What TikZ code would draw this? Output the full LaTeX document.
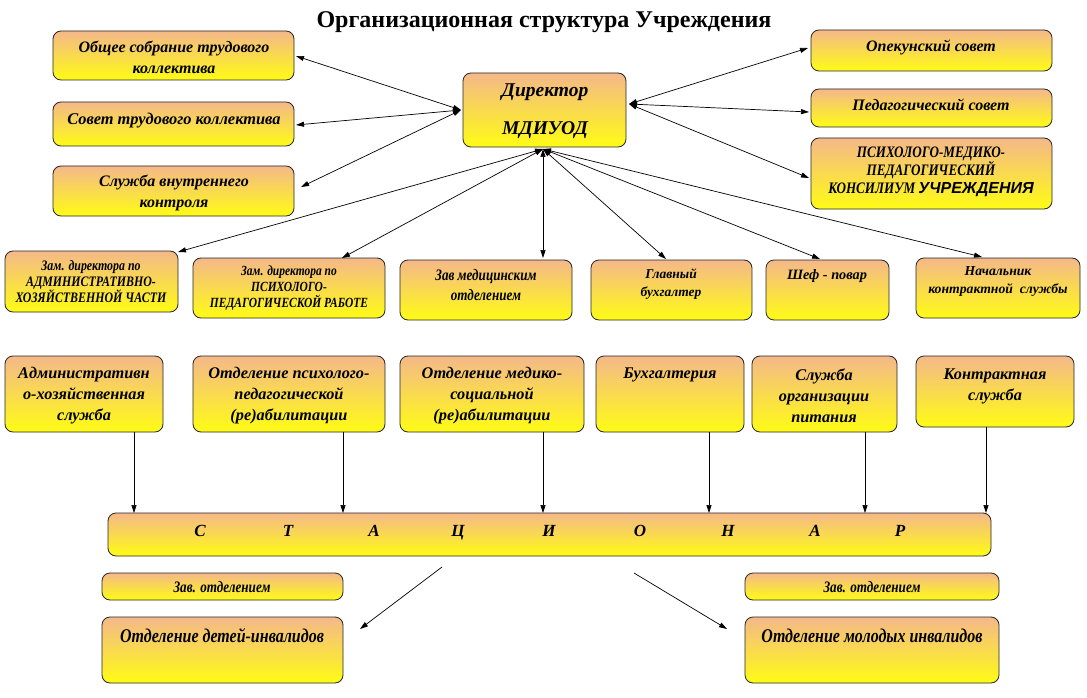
\documentclass[tikz,border=0pt]{standalone}
\usepackage{fontspec}
\setmainfont{Liberation Serif}
\newfontfamily\narrowf[FakeStretch=0.82]{Liberation Serif}
\newfontfamily\sansf{Liberation Sans}
\usetikzlibrary{arrows.meta}
\definecolor{btop}{RGB}{244,184,138}
\definecolor{bbot}{RGB}{255,252,20}
\tikzset{
 box/.style={draw=black!85, line width=0.8pt, rounded corners=8pt, top color=btop, bottom color=bbot, inner sep=0pt, outer sep=0pt},
 txt/.style={align=center, inner sep=0pt, font=\bfseries\itshape},
 link/.style={line width=0.7pt, -{Triangle[length=8pt,width=5pt]}},
 dlink/.style={line width=0.7pt, {Triangle[length=8pt,width=5pt]}-{Triangle[length=8pt,width=5pt]}},
}
\newcommand{\mybox}[5]{\node[box, minimum width={#4-#2}, minimum height={#5-#3}] (#1) at ({(#2+#4)/2},{(#3+#5)/2}) {};}
\newcommand{\fs}[2]{\fontsize{#1}{#2}\selectfont}
\begin{document}
\begin{tikzpicture}[x=1pt,y=-1pt]
\fill[white] (0,0) rectangle (1087,698);
\useasboundingbox (0,0) rectangle (1087,698);
\node[inner sep=0pt, font=\bfseries\fs{24}{28}] (title) at (544,22) {Организационная структура Учреждения};
\mybox{A1}{53}{31}{294}{80}
\mybox{A2}{53}{102}{294}{146}
\mybox{A3}{53}{166}{294}{216}
\mybox{Dir}{463}{73}{626}{147}
\mybox{B1}{811}{30}{1052}{71}
\mybox{B2}{811}{89}{1052}{127}
\mybox{B3}{811}{138}{1052}{209}
\mybox{C1}{5}{251}{178}{312}
\mybox{C2}{193}{258}{385}{318}
\mybox{C3}{400}{260}{572}{320}
\mybox{C4}{591}{260}{752}{320}
\mybox{C5}{766}{260}{889}{320}
\mybox{C6}{916}{258}{1080}{318}
\mybox{D1}{5}{356}{163}{432}
\mybox{D2}{193}{356}{385}{432}
\mybox{D3}{400}{356}{584}{432}
\mybox{D4}{596}{356}{744}{432}
\mybox{D5}{752}{356}{897}{432}
\mybox{D6}{916}{356}{1074}{427}
\mybox{S}{108}{513}{991}{556}
\mybox{Z1}{102}{573}{343}{600}
\mybox{Z2}{745}{573}{999}{600}
\mybox{E1}{102}{617}{343}{683}
\mybox{E2}{745}{617}{999}{683}
% texts
\node[txt, font=\bfseries\itshape\fs{16}{21}] (tA1) at (174,57) {Общее собрание трудового\\коллектива};
\node[txt, font=\bfseries\itshape\fs{16.4}{21}] (tA2) at (174,121) {Совет трудового коллектива};
\node[txt, font=\bfseries\itshape\fs{16}{21}] (tA3) at (174,193) {Служба внутреннего\\контроля};
\node[txt, font=\bfseries\itshape\fs{19.5}{38}] (tDir) at (545,111) {Директор\\{\fs{19.5}{38}МДИУОД}};
\node[txt, font=\bfseries\itshape\fs{16}{18}] (tB1) at (931,47) {Опекунский совет};
\node[txt, font=\bfseries\itshape\fs{16}{18}] (tB2) at (931,105) {Педагогический совет};
\node[txt, font=\narrowf\bfseries\itshape\fs{16}{18}] (tB3) at (931,172) {ПСИХОЛОГО-МЕДИКО-\\ПЕДАГОГИЧЕСКИЙ\\КОНСИЛИУМ {\sansf\bfseries\itshape\fs{16}{18}УЧРЕЖДЕНИЯ}};
\node[txt, font=\narrowf\bfseries\itshape\fs{14.5}{16}] (tC1) at (91,282) {Зам. директора по\\АДМИНИСТРАТИВНО-\\ХОЗЯЙСТВЕННОЙ ЧАСТИ};
\node[txt, font=\narrowf\bfseries\itshape\fs{14}{16}] (tC2) at (289,288) {Зам. директора по\\ПСИХОЛОГО-\\ПЕДАГОГИЧЕСКОЙ РАБОТЕ};
\node[txt, font=\narrowf\bfseries\itshape\fs{16}{20}] (tC3) at (486,285) {Зав медицинским\\отделением};
\node[txt, font=\bfseries\itshape\fs{13.5}{18}] (tC4) at (671,284) {Главный\\бухгалтер};
\node[txt, font=\bfseries\itshape\fs{14.3}{18}] (tC5) at (827,276) {Шеф - повар};
\node[txt, font=\bfseries\itshape\fs{13.7}{18}] (tC6) at (998,281) {Начальник\\контрактной\ \ службы};
\node[txt, font=\bfseries\itshape\fs{16.3}{21}] (tD1) at (84,396) {Административн\\о-хозяйственная\\служба};
\node[txt, font=\bfseries\itshape\fs{16.3}{21}] (tD2) at (289,396) {Отделение психолого-\\педагогической\\(ре)абилитации};
\node[txt, font=\bfseries\itshape\fs{16.3}{21}] (tD3) at (492,396) {Отделение медико-\\социальной\\(ре)абилитации};
\node[txt, font=\bfseries\itshape\fs{16.3}{21}] (tD4) at (670,375) {Бухгалтерия};
\node[txt, font=\bfseries\itshape\fs{16.3}{21}] (tD5) at (824,396) {Служба\\организации\\питания};
\node[txt, font=\bfseries\itshape\fs{16.3}{21}] (tD6) at (995,386) {Контрактная\\служба};
\foreach \x/\l [count=\i] in {200/С,288/Т,374/А,458/Ц,549/И,640/О,728/Н,815/А,900/Р}
  \node[txt, anchor=base, font=\bfseries\itshape\fs{17}{21}] (sl\i) at (\x,536) {\l};
\node[txt, font=\narrowf\bfseries\itshape\fs{16}{16}] (tZ1) at (222,587) {Зав. отделением};
\node[txt, font=\narrowf\bfseries\itshape\fs{16}{16}] (tZ2) at (872,587) {Зав. отделением};
\node[txt, font=\narrowf\bfseries\itshape\fs{19.5}{20}] (tE1) at (222,636) {Отделение детей-инвалидов};
\node[txt, font=\narrowf\bfseries\itshape\fs{19.5}{20}] (tE2) at (872,636) {Отделение молодых инвалидов};
% connector end points
\coordinate (dl) at (461,110);
\coordinate (db) at (543,149);
\coordinate (dr) at (629,104);
\coordinate (a1e) at (296,56);
\coordinate (a2e) at (296,125);
\coordinate (a3e) at (301,187);
\coordinate (b1e) at (808,48);
\coordinate (b2e) at (809,112);
\coordinate (b3e) at (809,178);
\coordinate (c1e) at (178,252);
\coordinate (c2e) at (342,258);
\coordinate (c3e) at (543,258);
\coordinate (c4e) at (666,259);
\coordinate (c5e) at (820,259);
\coordinate (c6e) at (982,257);
\draw[dlink] (dl) -- (a1e);
\draw[dlink] (dl) -- (a2e);
\draw[dlink] (dl) -- (a3e);
\draw[dlink] (dr) -- (b1e);
\draw[dlink] (dr) -- (b2e);
\draw[dlink] (dr) -- (b3e);
\foreach \c in {c1e,c2e,c3e,c4e,c5e,c6e} \draw[dlink] (db) -- (\c);
\coordinate (x1) at (134,0);
\coordinate (x2) at (343,0);
\coordinate (x3) at (543,0);
\coordinate (x4) at (709,0);
\coordinate (x5) at (865,0);
\coordinate (x6) at (986,0);
\draw[link] (D1.south -| x1) -- (S.north -| x1);
\draw[link] (D2.south -| x2) -- (S.north -| x2);
\draw[link] (D3.south -| x3) -- (S.north -| x3);
\draw[link] (D4.south -| x4) -- (S.north -| x4);
\draw[link] (D5.south -| x5) -- (S.north -| x5);
\draw[link] (D6.south -| x6) -- (S.north -| x6);
\coordinate (s1) at (442,567);
\coordinate (e1) at (360,629);
\coordinate (s2) at (634,573);
\coordinate (e2) at (727,629);
\draw[link] (s1) -- (e1);
\draw[link] (s2) -- (e2);
\end{tikzpicture}
\end{document}
